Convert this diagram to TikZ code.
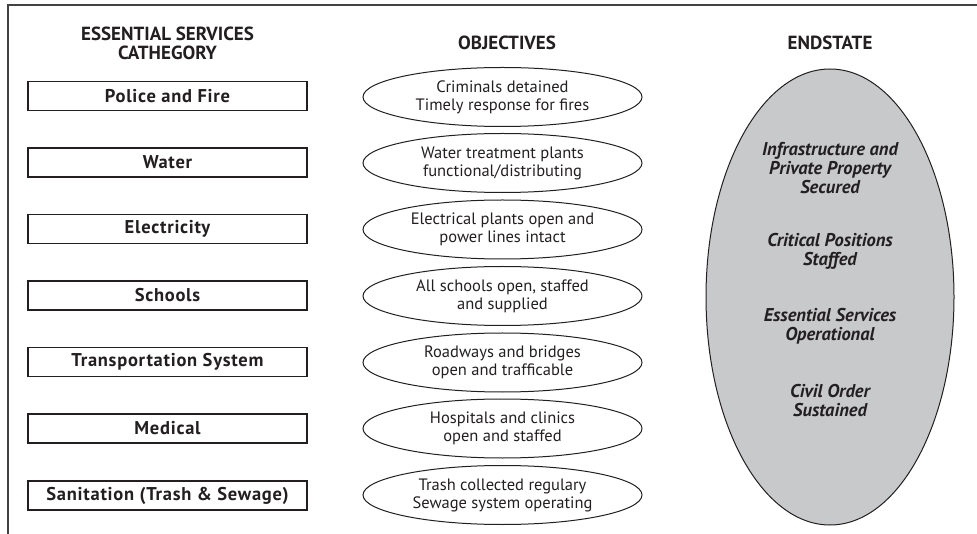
\documentclass[tikz,border=0pt]{standalone}
\usepackage{fontspec}
\setmainfont{PT Sans}
\newfontfamily\boxfont[LetterSpace=4]{PT Sans}
\usetikzlibrary{shapes.geometric}
\definecolor{inkgray}{HTML}{231F20}
\definecolor{endfill}{HTML}{C8C9CB}

\begin{document}
\begin{tikzpicture}[x=1pt,y=1pt,
  catbox/.style={draw=inkgray,line width=1.2pt,minimum width=279pt,minimum height=29pt,inner sep=0pt,
    font=\boxfont\bfseries\fontsize{18.5}{20}\selectfont,text=inkgray},
  objoval/.style={ellipse,draw=inkgray,line width=1pt,minimum width=279pt,minimum height=59pt,inner sep=0pt,
    align=center,font=\fontsize{16.5}{18}\selectfont,text=inkgray},
  heading/.style={align=center,font=\bfseries\fontsize{19}{19}\selectfont,text=inkgray},
  goal/.style={align=center,font=\bfseries\itshape\fontsize{18.5}{19}\selectfont,text=inkgray}]
\useasboundingbox (0,0) rectangle (977,-534);
% frame
\draw [inkgray!85,line width=1.2pt] (977,-5) -- (8,-5) -- (8,-534);
% column headings
\node [heading] (hcat) at (167.5,-43) {ESSENTIAL SERVICES\\CATHEGORY};
\node [heading] (hobj) at (507,-43) {OBJECTIVES};
\node [heading] (hend) at (830,-43) {ENDSTATE};
% categories
\node [catbox] (police) at (167.5,-96) {Police and Fire};
\node [catbox] (water) at (167.5,-162.5) {Water};
\node [catbox] (power) at (167.5,-229) {Electricity};
\node [catbox] (schools) at (167.5,-295.5) {Schools};
\node [catbox] (transport) at (167.5,-362) {Transportation System};
\node [catbox] (medical) at (167.5,-428.5) {Medical};
\node [catbox] (sanitation) at (167.5,-495.5) {Sanitation (Trash \& Sewage)};
% objectives
\node [objoval] (opolice) at (502.5,-97) {Criminals detained\\Timely response for fires};
\node [objoval] (owater) at (502.5,-163) {Water treatment plants\\functional/distributing};
\node [objoval] (opower) at (502.5,-229.5) {Electrical plants open and\\power lines intact};
\node [objoval] (oschools) at (502.5,-296) {All schools open, staffed\\and supplied};
\node [objoval] (otransport) at (502.5,-362.5) {Roadways and bridges\\open and trafficable};
\node [objoval] (omedical) at (502.5,-428.5) {Hospitals and clinics\\open and staffed};
\node [objoval] (osanitation) at (502.5,-495) {Trash collected regulary\\Sewage system operating};
% endstate
\node [ellipse,draw=inkgray,fill=endfill,line width=1pt,minimum width=248pt,minimum height=456pt,inner sep=0pt]
  (endstate) at (830,-297) {};
\node [goal] (secured) at (830,-168) {Infrastructure and\\Private Property\\Secured};
\node [goal] (staffed) at (830,-251) {Critical Positions\\Staffed};
\node [goal] (running) at (830,-326) {Essential Services\\Operational};
\node [goal] (order) at (830,-401) {Civil Order\\Sustained};
\end{tikzpicture}
\end{document}
